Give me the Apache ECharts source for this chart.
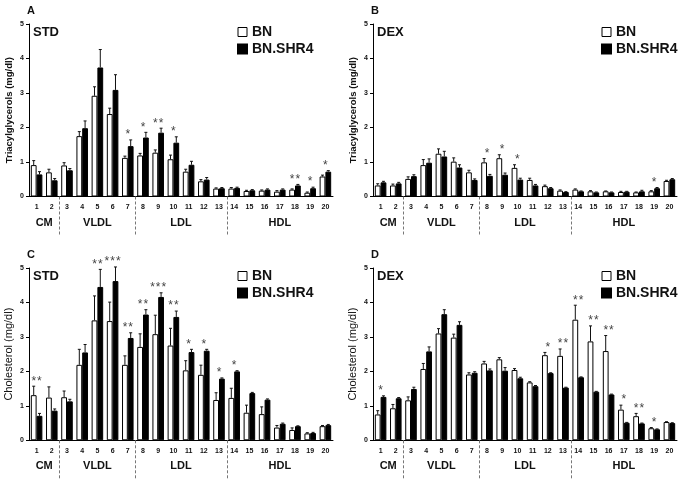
<!DOCTYPE html>
<html><head><meta charset="utf-8">
<script src="https://cdn.jsdelivr.net/npm/echarts@6/dist/echarts.min.js"></script>
<style>html,body{margin:0;padding:0;background:#fff}#c{width:685px;height:480px}</style>
</head><body><div id="c"></div>
<script>
const FONT = '"Liberation Sans", Arial, sans-serif';
const fractions = ['1','2','3','4','5','6','7','8','9','10','11','12','13','14','15','16','17','18','19','20'];
const groupNames = ['CM','VLDL','LDL','HDL'];
const groupFrom = [0, 2, 7, 13];
const groupTo = [1, 6, 12, 19];
const yTicks = [0, 1, 2, 3, 4, 5];

// Panel A: Triacylglycerols, STD
const tgStdBN = [0.91,0.70,0.90,1.75,2.92,2.39,1.12,1.19,1.27,1.08,0.72,0.44,0.23,0.23,0.16,0.17,0.14,0.20,0.11,0.58];
const tgStdBNsem = [0.13,0.09,0.08,0.13,0.26,0.17,0.05,0.06,0.08,0.12,0.07,0.05,0.02,0.03,0.02,0.02,0.03,0.02,0.02,0.04];
const tgStdSHR = [0.64,0.47,0.76,1.98,3.74,3.09,1.46,1.71,1.85,1.56,0.92,0.49,0.24,0.25,0.18,0.20,0.20,0.32,0.24,0.72];
const tgStdSHRsem = [0.08,0.05,0.05,0.21,0.52,0.44,0.18,0.15,0.13,0.17,0.10,0.06,0.02,0.02,0.02,0.02,0.02,0.03,0.03,0.03];
const tgStdStars = ['','','','','','','*','*','**','*','','','','','','','','**','*','*'];

// Panel B: Triacylglycerols, DEX
const tgDexBN = [0.32,0.32,0.51,0.91,1.24,1.01,0.70,0.99,1.11,0.83,0.48,0.30,0.17,0.20,0.15,0.15,0.13,0.12,0.15,0.45];
const tgDexBNsem = [0.05,0.04,0.06,0.16,0.14,0.11,0.06,0.11,0.10,0.09,0.05,0.03,0.02,0.02,0.02,0.01,0.02,0.01,0.02,0.02];
const tgDexSHR = [0.41,0.38,0.59,0.98,1.16,0.84,0.48,0.60,0.63,0.49,0.32,0.24,0.13,0.15,0.12,0.12,0.14,0.15,0.24,0.50];
const tgDexSHRsem = [0.03,0.03,0.04,0.11,0.15,0.08,0.03,0.04,0.05,0.04,0.03,0.02,0.01,0.01,0.01,0.01,0.01,0.03,0.02,0.02];
const tgDexStars = ['','','','','','','','*','*','*','','','','','','','','','*',''];

// Panel C: Cholesterol, STD
const chStdBN = [1.31,1.24,1.25,2.19,3.48,3.46,2.19,2.71,3.08,2.75,2.03,1.90,1.17,1.23,0.80,0.76,0.37,0.30,0.20,0.41];
const chStdBNsem = [0.26,0.31,0.18,0.45,0.71,0.55,0.26,0.38,0.55,0.50,0.28,0.28,0.21,0.28,0.22,0.21,0.06,0.06,0.02,0.02];
const chStdSHR = [0.71,0.86,1.13,2.55,4.45,4.62,2.97,3.65,4.16,3.58,2.56,2.60,1.79,2.00,1.37,1.18,0.48,0.41,0.21,0.44];
const chStdSHRsem = [0.07,0.05,0.06,0.23,0.51,0.41,0.15,0.14,0.12,0.17,0.08,0.04,0.02,0.02,0.02,0.02,0.02,0.01,0.02,0.02];
const chStdStars = ['**','','','','**','***','**','**','***','**','*','*','*','*','','','','','',''];

// Panel D: Cholesterol, DEX
const chDexBN = [0.75,0.93,1.16,2.07,3.10,2.98,1.91,2.23,2.35,2.04,1.68,2.47,2.45,3.50,2.87,2.59,0.89,0.70,0.35,0.53];
const chDexBNsem = [0.11,0.11,0.10,0.16,0.14,0.10,0.05,0.06,0.05,0.04,0.02,0.08,0.20,0.42,0.45,0.45,0.13,0.08,0.02,0.01];
const chDexSHR = [1.26,1.22,1.49,2.58,3.66,3.35,1.96,2.03,2.02,1.80,1.57,1.95,1.53,1.83,1.41,1.33,0.51,0.49,0.32,0.50];
const chDexSHRsem = [0.03,0.02,0.05,0.13,0.13,0.09,0.03,0.04,0.09,0.03,0.02,0.01,0.01,0.01,0.01,0.01,0.01,0.01,0.01,0.01];
const chDexStars = ['*','','','','','','','','','','','*','**','**','**','**','*','**','*',''];

const panels = [
  {letter:'A', diet:'STD', yName:'Triacylglycerols (mg/dl)', nameBold:true, bn:tgStdBN, bnSem:tgStdBNsem, shr:tgStdSHR, shrSem:tgStdSHRsem, stars:tgStdStars,
   grid:{left:29, top:24, width:304, height:172.5}, legendLeft:237},
  {letter:'B', diet:'DEX', yName:'Triacylglycerols (mg/dl)', nameBold:true, bn:tgDexBN, bnSem:tgDexBNsem, shr:tgDexSHR, shrSem:tgDexSHRsem, stars:tgDexStars,
   grid:{left:373, top:24, width:304, height:172.5}, legendLeft:601},
  {letter:'C', diet:'STD', yName:'Cholesterol (mg/dl)', nameBold:false, bn:chStdBN, bnSem:chStdBNsem, shr:chStdSHR, shrSem:chStdSHRsem, stars:chStdStars,
   grid:{left:29, top:268, width:304, height:172.3}, legendLeft:237},
  {letter:'D', diet:'DEX', yName:'Cholesterol (mg/dl)', nameBold:false, bn:chDexBN, bnSem:chDexBNsem, shr:chDexSHR, shrSem:chDexSHRsem, stars:chDexStars,
   grid:{left:373, top:268, width:304, height:172.3}, legendLeft:601}
];

const BW = 0.38; // each bar as fraction of category band

function errRender(means, sems, side) {
  return function (params, api) {
    const i = params.dataIndex;
    const band = api.size([1, 0])[0];
    const bw = band * BW;
    const c = api.coord([i, means[i]]);
    const x = c[0] + side * bw / 2;
    const y1 = api.coord([i, means[i] + sems[i]])[1];
    const st = {stroke:'#111', lineWidth:1};
    return {type:'group', children:[
      {type:'line', shape:{x1:x, y1:c[1], x2:x, y2:y1}, style:st},
      {type:'line', shape:{x1:x - 1.5, y1:y1, x2:x + 1.5, y2:y1}, style:st}
    ]};
  };
}
function starRender(p) {
  return function (params, api) {
    const i = params.dataIndex;
    if (!p.stars[i]) return null;
    const top = Math.max(p.bn[i] + p.bnSem[i], p.shr[i] + p.shrSem[i]);
    const c = api.coord([i, top]);
    return {type:'text', x:c[0], y:c[1] + 1,
      style:{text:p.stars[i].split('').join('\u200a'), align:'center', verticalAlign:'bottom', fontSize:12, fontFamily:FONT, fill:'#444'}};
  };
}
function groupRender(params, api) {
  const k = params.dataIndex;
  const band = api.size([1, 0])[0];
  const a = api.coord([groupFrom[k], 0]);
  const b = api.coord([groupTo[k], 0]);
  const children = [{type:'text', x:(a[0] + b[0]) / 2, y:a[1] + 26,
    style:{text:groupNames[k], align:'center', verticalAlign:'middle', fontSize:11, fontWeight:'bold', fontFamily:FONT, fill:'#111'}}];
  if (k > 0) {
    const x = Math.round(a[0] - band / 2) + 0.5;
    children.push({type:'line', shape:{x1:x, y1:a[1], x2:x, y2:a[1] + 39},
      style:{stroke:'#777', lineWidth:1, lineDash:[3, 2]}});
  }
  return {type:'group', children};
}

const option = {
  animation:false,
  backgroundColor:'#fff',
  title:[], legend:[], grid:[], xAxis:[], yAxis:[], series:[]
};

panels.forEach((p, k) => {
  option.grid.push(p.grid);
  option.xAxis.push({type:'category', gridIndex:k, data:fractions,
    axisLine:{lineStyle:{color:'#000', width:1}}, axisTick:{show:false},
    axisLabel:{interval:0, fontSize:7, fontWeight:'bold', fontFamily:FONT, color:'#111', margin:7}});
  option.yAxis.push({type:'value', gridIndex:k, min:yTicks[0], max:yTicks[yTicks.length - 1], interval:1,
    name:p.yName, nameLocation:'middle', nameGap:15,
    nameTextStyle:{fontSize:p.nameBold ? 9.5 : 11, fontWeight:p.nameBold ? 'bold' : 'normal', fontFamily:FONT, color:'#111'},
    axisLine:{show:true, lineStyle:{color:'#000', width:1}},
    axisTick:{show:true, length:3, lineStyle:{color:'#000'}},
    splitLine:{show:false},
    axisLabel:{fontSize:7, fontWeight:'bold', fontFamily:FONT, color:'#111', margin:5}});
  const gl = p.grid.left, gt = p.grid.top;
  option.title.push({text:p.letter, left:gl - 2, top:gt - 19, padding:0,
    textStyle:{fontSize:11, fontWeight:'bold', fontFamily:FONT, color:'#111'}});
  option.title.push({text:p.diet, left:gl + 4, top:gt + 2, padding:0,
    textStyle:{fontSize:13, fontWeight:'bold', fontFamily:FONT, color:'#111'}});
  option.legend.push({left:p.legendLeft, top:gt + 1, orient:'vertical', itemWidth:9, itemHeight:9, itemGap:3, padding:0,
    icon:'rect', textStyle:{fontSize:14, lineHeight:14, fontWeight:'bold', fontFamily:FONT, color:'#111'},
    data:[{name:'BN', itemStyle:{color:'#fff', borderColor:'#000', borderWidth:1}},
          {name:'BN.SHR4', itemStyle:{color:'#000'}}]});
  option.series.push({type:'bar', name:'BN', xAxisIndex:k, yAxisIndex:k, data:p.bn, barWidth:(BW * 100) + '%', barGap:'0%',
    itemStyle:{color:'#fff', borderColor:'#000', borderWidth:1}});
  option.series.push({type:'bar', name:'BN.SHR4', xAxisIndex:k, yAxisIndex:k, data:p.shr, barWidth:(BW * 100) + '%', barGap:'0%',
    itemStyle:{color:'#000', borderColor:'#000', borderWidth:1}});
  option.series.push({type:'custom', name:'errBN', xAxisIndex:k, yAxisIndex:k, z:5, clip:false,
    data:fractions.map((f, i) => [i, p.bn[i] + p.bnSem[i]]), renderItem:errRender(p.bn, p.bnSem, -1)});
  option.series.push({type:'custom', name:'errSHR', xAxisIndex:k, yAxisIndex:k, z:5, clip:false,
    data:fractions.map((f, i) => [i, p.shr[i] + p.shrSem[i]]), renderItem:errRender(p.shr, p.shrSem, 1)});
  option.series.push({type:'custom', name:'stars', xAxisIndex:k, yAxisIndex:k, z:6, clip:false,
    data:fractions.map((f, i) => [i, Math.max(p.bn[i] + p.bnSem[i], p.shr[i] + p.shrSem[i])]), renderItem:starRender(p)});
  option.series.push({type:'custom', name:'groups', xAxisIndex:k, yAxisIndex:k, z:6, clip:false,
    data:groupNames.map((g, j) => [groupFrom[j], 0]), renderItem:groupRender});
});

const chart = echarts.init(document.getElementById('c'), null, {renderer:'canvas'});
chart.setOption(option);
</script></body></html>
